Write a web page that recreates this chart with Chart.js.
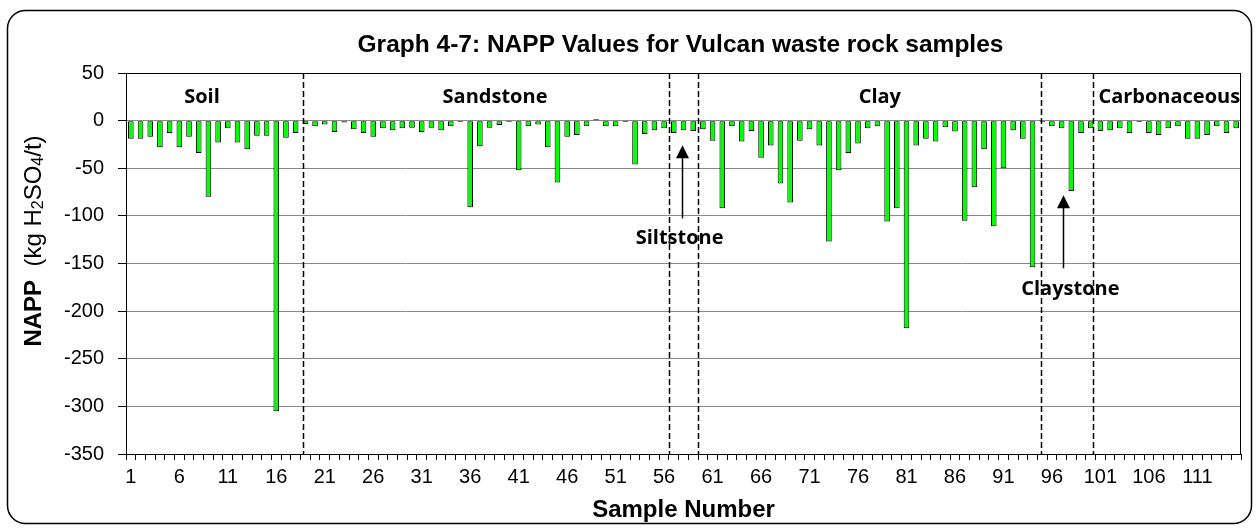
<!DOCTYPE html>
<html>
<head>
<meta charset="utf-8">
<script src="https://cdn.jsdelivr.net/npm/chart.js@4.4.1/dist/chart.umd.min.js"></script>
<style>
  html, body { margin: 0; padding: 0; background: #fff; }
  #wrap { width: 1259px; height: 528px; position: relative; }
</style>
</head>
<body>
<div id="wrap"><canvas id="nappChart"></canvas></div>
<script>
// Sample numbers along the x axis
const sampleNumbers = Array.from({ length: 115 }, (_, i) => String(i + 1));

// Labels that Excel printed under the axis
const tickLabels = ['1', '6', '11', '16', '21', '26', '31', '36', '41', '46', '51', '56',
    '61', '66', '71', '76', '81', '86', '91', '96', '101', '106', '111'];

// NAPP values (kg H2SO4/t)
const nappValues = [
    -19, -19, -17, -28, -13, -28, -17, -34, -80, -23,
    -8, -23, -30, -16, -16, -305, -18, -13, -3.5, -6,
    -4, -12, -2, -9, -13, -17, -8, -10, -8, -7.5,
    -12, -7.5, -10, -6, -1.5, -91, -27, -7.5, -4.5, -1.5,
    -52, -6, -4, -28, -65, -17, -15, -6, 1.5, -6,
    -6, -1.5, -46, -14, -10, -8, -13, -10, -11, -9,
    -21, -92, -6, -22, -11, -39, -26, -66, -86, -21,
    -9, -26, -127, -52, -34, -24, -8, -6, -106, -92,
    -218, -26, -19, -22, -7, -11.5, -105, -70, -30, -111,
    -50, -10, -19, -154, -1.5, -6, -8, -74, -13, -8,
    -11, -10, -8, -13, -1.5, -13, -15, -8, -6, -19,
    -19, -15, -6, -13, -8
];

// Rock type groups and the dashed dividers between them (in sample units)
const groupNames = ['Soil', 'Sandstone', 'Siltstone', 'Clay', 'Claystone', 'Carbonaceous'];
const groupDividers = [18.25, 56, 59, 94.35, 99.7];

const titleText = 'Graph 4-7: NAPP Values for Vulcan waste rock samples';

const FONT = "'Liberation Sans', Arial, sans-serif";
const LABEL_FONT = "'Open Sans', 'Noto Sans', sans-serif";

function roundedBox(ctx, x, y, w, h, r) {
    ctx.beginPath();
    ctx.moveTo(x + r, y);
    ctx.arcTo(x + w, y, x + w, y + h, r);
    ctx.arcTo(x + w, y + h, x, y + h, r);
    ctx.arcTo(x, y + h, x, y, r);
    ctx.arcTo(x, y, x + w, y, r);
    ctx.closePath();
}

function arrowUp(ctx, x, yTail, yTip) {
    ctx.beginPath();
    ctx.moveTo(x, yTail);
    ctx.lineTo(x, yTip + 10);
    ctx.lineWidth = 1.5;
    ctx.stroke();
    ctx.beginPath();
    ctx.moveTo(x, yTip);
    ctx.lineTo(x - 6.5, yTip + 13);
    ctx.lineTo(x + 6.5, yTip + 13);
    ctx.closePath();
    ctx.fill();
}

const decorations = {
    id: 'decorations',
    beforeDraw(chart) {
        const ctx = chart.ctx;
        ctx.save();
        ctx.fillStyle = '#fff';
        ctx.fillRect(0, 0, chart.width, chart.height);
        roundedBox(ctx, 7.5, 10.5, 1244, 513, 18);
        ctx.lineWidth = 1.5;
        ctx.strokeStyle = '#000';
        ctx.stroke();
        ctx.restore();
    },
    afterDatasetsDraw(chart) {
        const ctx = chart.ctx;
        const area = chart.chartArea;
        const x = chart.scales.x;
        const y = chart.scales.y;
        const px = pos => x.getPixelForValue(pos - 0.5);

        ctx.save();
        ctx.strokeStyle = '#000';
        ctx.fillStyle = '#000';

        // plot frame
        ctx.lineWidth = 1;
        ctx.strokeRect(area.left + 0.5, area.top + 0.5, area.right - area.left - 1, area.bottom - area.top);

        // dashed dividers
        ctx.setLineDash([6, 3]);
        ctx.lineWidth = 1.5;
        groupDividers.forEach(d => {
            const xx = Math.round(px(d)) + 0.5;
            ctx.beginPath();
            ctx.moveTo(xx, area.top);
            ctx.lineTo(xx, area.bottom);
            ctx.stroke();
        });
        ctx.setLineDash([]);

        // group labels
        ctx.font = 'bold 20px ' + LABEL_FONT;
        ctx.textAlign = 'center';
        ctx.textBaseline = 'alphabetic';
        ctx.fillText(groupNames[0], px(7.84), y.getPixelForValue(18));
        ctx.fillText(groupNames[1], px(38.06), y.getPixelForValue(18));
        ctx.fillText(groupNames[3], px(77.75), y.getPixelForValue(18));
        ctx.fillText(groupNames[5], px(107.6), y.getPixelForValue(18));
        ctx.fillText(groupNames[2], px(57.1), y.getPixelForValue(-130));
        ctx.fillText(groupNames[4], px(97.4), y.getPixelForValue(-182.6));

        // arrows
        arrowUp(ctx, Math.round(px(57.35)) + 0.5, y.getPixelForValue(-102.6), y.getPixelForValue(-25.8));
        arrowUp(ctx, Math.round(px(96.6)) + 0.5, y.getPixelForValue(-155), y.getPixelForValue(-78.4));

        // chart title
        ctx.font = 'bold 24.5px ' + FONT;
        ctx.textBaseline = 'middle';
        ctx.fillText(titleText, (area.left + area.right) / 2 - 3, 45);

        // y axis title with subscripts
        const parts = [
            { t: 'NAPP', f: 'bold 24px ' + FONT, dy: 0 },
            { t: '  (kg H', f: '24px ' + FONT, dy: 0 },
            { t: '2', f: '16px ' + FONT, dy: 5 },
            { t: 'SO', f: '24px ' + FONT, dy: 0 },
            { t: '4', f: '16px ' + FONT, dy: 5 },
            { t: '/t)', f: '24px ' + FONT, dy: 0 }
        ];
        let total = 0;
        parts.forEach(p => { ctx.font = p.f; p.w = ctx.measureText(p.t).width; total += p.w; });
        ctx.translate(34, 241);
        ctx.rotate(-Math.PI / 2);
        ctx.textAlign = 'left';
        let cx = -total / 2;
        parts.forEach(p => {
            ctx.font = p.f;
            ctx.fillText(p.t, cx, p.dy);
            cx += p.w;
        });
        ctx.restore();
    }
};

Chart.defaults.font.family = FONT;
Chart.defaults.color = '#000';

new Chart(document.getElementById('nappChart'), {
    type: 'bar',
    data: {
        labels: sampleNumbers,
        datasets: [{
            label: 'NAPP',
            data: nappValues,
            backgroundColor: '#00FF00',
            borderColor: '#000',
            borderWidth: 1,
            borderSkipped: false,
            barPercentage: 0.58,
            categoryPercentage: 1
        }]
    },
    options: {
        responsive: true,
        maintainAspectRatio: false,
        animation: false,
        layout: { padding: { left: 0, right: 18, top: 73, bottom: 3 } },
        plugins: {
            legend: { display: false },
            tooltip: { enabled: false }
        },
        scales: {
            x: {
                offset: true,
                afterFit: scale => { scale.height = 71; },
                grid: {
                    offset: true,
                    drawOnChartArea: false,
                    drawTicks: true,
                    tickLength: 6,
                    color: '#000'
                },
                border: { color: '#000', width: 1 },
                ticks: {
                    autoSkip: false,
                    maxRotation: 0,
                    padding: 5,
                    font: { size: 20 },
                    callback: function (value) {
                        const lab = this.getLabelForValue(value);
                        return tickLabels.includes(lab) ? lab : '';
                    }
                },
                title: {
                    display: true,
                    text: 'Sample Number',
                    font: { size: 24, weight: 'bold' },
                    padding: { top: 0, bottom: 0 }
                }
            },
            y: {
                min: -350,
                max: 50,
                afterFit: scale => { scale.width = 126; },
                grid: {
                    color: '#888',
                    tickColor: '#000',
                    tickLength: 8
                },
                border: { color: '#000', width: 1 },
                ticks: {
                    stepSize: 50,
                    padding: 14,
                    font: { size: 20 }
                }
            }
        }
    },
    plugins: [decorations]
});
</script>
</body>
</html>
